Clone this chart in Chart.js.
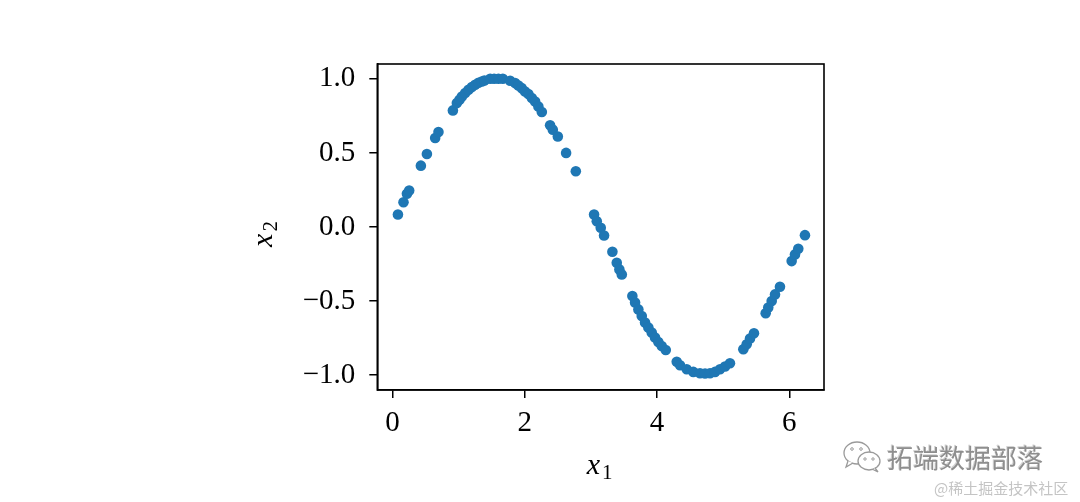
<!DOCTYPE html>
<html>
<head>
<meta charset="utf-8">
<script src="https://cdn.jsdelivr.net/npm/chart.js@4"></script>
<style>
  html, body { margin: 0; padding: 0; background: #fff; }
  #wrap { position: relative; width: 1080px; height: 502px; overflow: hidden; }
  #c { position: absolute; left: 0; top: 0; }
  .wm1 { position: absolute; left: 887px; top: 438px; font-family: "Noto Sans CJK SC"; font-size: 26px; color: #8e8e8e; text-shadow: 1px 1px 0 #fff, -1px -1px 0 #d4d4d4; white-space: nowrap; }
  .wm2 { position: absolute; left: 934px; top: 477px; font-family: "Noto Sans CJK SC"; font-size: 15px; color: #c4c4c4; white-space: nowrap; }
  .icon { position: absolute; left: 842px; top: 440px; }
</style>
</head>
<body>
<div id="wrap">
  <canvas id="c" width="1080" height="502"></canvas>
  <svg class="icon" width="42" height="34" viewBox="0 0 42 34">
    <ellipse cx="15" cy="13" rx="13" ry="11" fill="none" stroke="#9a9a9a" stroke-width="1.3"/>
    <path d="M6 21 L4 27 L11 23" fill="#fff" stroke="#9a9a9a" stroke-width="1.3"/>
    <ellipse cx="27" cy="21" rx="11" ry="9" fill="#fff" stroke="#9a9a9a" stroke-width="1.3"/>
    <path d="M33 28 L36 32 L31 29.5" fill="#fff" stroke="#9a9a9a" stroke-width="1.3"/>
    <circle cx="10" cy="9" r="1.3" fill="none" stroke="#9a9a9a" stroke-width="1"/>
    <circle cx="19" cy="9" r="1.3" fill="none" stroke="#9a9a9a" stroke-width="1"/>
    <circle cx="23" cy="19" r="1.2" fill="none" stroke="#9a9a9a" stroke-width="1"/>
    <circle cx="31" cy="19" r="1.2" fill="none" stroke="#9a9a9a" stroke-width="1"/>
  </svg>
  <div class="wm1">拓端数据部落</div>
  <div class="wm2">@稀土掘金技术社区</div>
</div>
<script>
// ---- data ----
const xValues = [
  0.082, 0.166, 0.218, 0.252, 0.429, 0.520, 0.645, 0.695, 0.913,
  0.973, 1.013, 1.049, 1.099, 1.149, 1.200, 1.250, 1.300, 1.351, 1.390,
  1.477, 1.537, 1.602, 1.668,
  1.779, 1.854, 1.904, 1.955, 2.005, 2.055, 2.107, 2.157, 2.206, 2.258,
  2.383, 2.424, 2.500, 2.625, 2.772,
  3.048, 3.089, 3.149, 3.199, 3.325, 3.391, 3.431, 3.467,
  3.627, 3.668, 3.718, 3.769, 3.819, 3.869, 3.920, 3.970, 4.020, 4.071, 4.132,
  4.298, 4.348, 4.449, 4.549, 4.650, 4.726, 4.801, 4.877, 4.952, 5.028, 5.103,
  5.305, 5.356, 5.406, 5.466,
  5.643, 5.682, 5.734, 5.784, 5.859,
  6.036, 6.086, 6.136, 6.237
];
const yValues = [
  0.084, 0.167, 0.224, 0.246, 0.414, 0.493, 0.601, 0.641, 0.787,
  0.836, 0.859, 0.881, 0.904, 0.926, 0.944, 0.960, 0.973, 0.982, 0.989,
  1.000, 1.000, 1.000, 1.000,
  0.987, 0.971, 0.955, 0.937, 0.914, 0.897, 0.870, 0.847, 0.813, 0.776,
  0.686, 0.657, 0.611, 0.500, 0.376,
  0.084, 0.039, -0.005, -0.057, -0.167, -0.241, -0.286, -0.320,
  -0.466, -0.510, -0.556, -0.601, -0.645, -0.679, -0.712, -0.746, -0.776, -0.803, -0.830,
  -0.910, -0.933, -0.960, -0.978, -0.987, -0.989, -0.987, -0.978, -0.960, -0.941, -0.919,
  -0.825, -0.791, -0.753, -0.717,
  -0.582, -0.544, -0.500, -0.455, -0.403,
  -0.230, -0.185, -0.147, -0.055
];
const xTicks = [0, 2, 4, 6];
const yTicks = [-1.0, -0.5, 0.0, 0.5, 1.0];
const xLabel = ["x", "1"];   // italic symbol + subscript
const yLabel = ["x", "2"];

const points = xValues.map((x, i) => ({ x: x, y: yValues[i] }));
const fmt = v => (v < 0 ? "\u2212" : "") + Math.abs(v);
const fmt1 = v => (v < 0 ? "\u2212" : "") + Math.abs(v).toFixed(1);

const SERIF = "'Liberation Serif', 'DejaVu Serif', serif";

function drawSubLabel(ctx, parts, cx, baseY) {
  const mainFont = "italic 30px " + SERIF;
  const subFont = "21px " + SERIF;
  ctx.font = mainFont;
  const w1 = ctx.measureText(parts[0]).width;
  ctx.font = subFont;
  const w2 = ctx.measureText(parts[1]).width;
  const gap = 2;
  const total = w1 + gap + w2;
  const x0 = cx - total / 2;
  ctx.textBaseline = 'alphabetic';
  ctx.textAlign = 'left';
  ctx.fillStyle = '#000';
  ctx.font = mainFont;
  ctx.fillText(parts[0], x0, baseY);
  ctx.font = subFont;
  ctx.fillText(parts[1], x0 + w1 + gap, baseY + 5);
}

const frameAndTitles = {
  id: 'frameAndTitles',
  afterDraw(chart) {
    const a = chart.chartArea, ctx = chart.ctx;
    ctx.save();
    ctx.strokeStyle = '#000';
    ctx.lineWidth = 1.6;
    ctx.strokeRect(a.left, a.top, a.right - a.left, a.bottom - a.top);
    // x-axis title
    drawSubLabel(ctx, xLabel, (a.left + a.right) / 2 - 1, a.bottom + 84);
    // y-axis title (rotated)
    ctx.save();
    ctx.translate(a.left - 105, (a.top + a.bottom) / 2 + 7);
    ctx.rotate(-Math.PI / 2);
    drawSubLabel(ctx, yLabel, 0, 0);
    ctx.restore();
    ctx.restore();
  }
};

const tickFont = { family: SERIF, size: 29 };

new Chart(document.getElementById('c'), {
  type: 'scatter',
  data: {
    datasets: [{
      data: points,
      backgroundColor: '#1f77b4',
      borderWidth: 0,
      pointRadius: 5.3,
      pointHoverRadius: 5.3
    }]
  },
  options: {
    responsive: false,
    animation: false,
    events: [],
    layout: { padding: { left: 253.6, right: 256, top: 64, bottom: 27.6 } },
    plugins: { legend: { display: false }, tooltip: { enabled: false } },
    scales: {
      x: {
        type: 'linear',
        min: -0.23, max: 6.525,
        afterBuildTicks: s => { s.ticks = xTicks.map(v => ({ value: v })); },
        afterFit: s => { s.height = 84.4; },
        grid: { display: true, drawOnChartArea: false, drawTicks: true, tickLength: 8, color: '#000', lineWidth: 1.5 },
        border: { display: true, color: '#000', width: 1.6 },
        ticks: { color: '#000', font: tickFont, padding: 8, maxRotation: 0, callback: v => fmt(v) },
        title: { display: false }
      },
      y: {
        type: 'linear',
        min: -1.1, max: 1.1,
        afterBuildTicks: s => { s.ticks = yTicks.map(v => ({ value: v })); },
        afterFit: s => { s.width = 123.7; },
        grid: { display: true, drawOnChartArea: false, drawTicks: true, tickLength: 8, color: '#000', lineWidth: 1.5 },
        border: { display: true, color: '#000', width: 1.6 },
        ticks: { color: '#000', font: tickFont, padding: 14, callback: v => fmt1(v) },
        title: { display: false }
      }
    }
  },
  plugins: [frameAndTitles]
});
</script>
</body>
</html>
